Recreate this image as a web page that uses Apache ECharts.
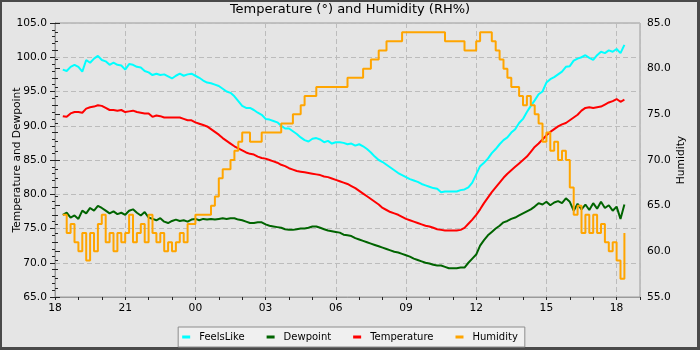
<!DOCTYPE html>
<html>
<head>
<meta charset="utf-8">
<script src="https://cdn.jsdelivr.net/npm/echarts@6/dist/echarts.min.js"></script>
<style>
html,body{margin:0;padding:0;background:#fff}
#c{width:700px;height:350px}
</style>
</head>
<body>
<div id="c"></div>
<script>
// Samples every 10 minutes starting 18:20 (x = hours after 18:00)
const startMinutes = 20;
const stepMinutes = 10;

const xTickLabels = ['18', '21', '00', '03', '06', '09', '12', '15', '18'];

const feelsLike = [
  98.2, 98.0, 98.6, 98.9, 98.6, 97.9, 99.6, 99.2, 99.8, 100.2, 99.6, 99.4, 98.9, 99.2, 98.9, 98.8, 98.2, 99.0,
  98.9, 98.6, 98.5, 98.0, 97.8, 97.4, 97.6, 97.4, 97.5, 97.2, 96.9, 97.3, 97.6, 97.3, 97.5, 97.6, 97.3, 97.0,
  96.6, 96.3, 96.2, 96.0, 95.8, 95.4, 95.0, 94.8, 94.3, 93.6, 92.9, 92.6, 92.6, 92.3, 91.9, 91.6, 91.0, 90.9,
  90.7, 90.5, 90.0, 89.6, 89.6, 89.2, 88.8, 88.3, 87.9, 87.7, 88.1, 88.2, 88.0, 87.6, 87.8, 87.4, 87.6, 87.6,
  87.5, 87.3, 87.4, 87.1, 87.3, 87.0, 86.6, 86.1, 85.5, 85.0, 84.7, 84.3, 83.9, 83.5, 83.1, 82.8, 82.5, 82.2,
  82.0, 81.8, 81.5, 81.3, 81.1, 80.9, 80.8, 80.3, 80.4, 80.4, 80.4, 80.4, 80.6, 80.7, 81.0, 81.7, 82.9,
  84.1, 84.6, 85.2, 86.0, 86.6, 87.3, 87.9, 88.3, 89.0, 89.5, 90.4, 91.0, 92.0, 92.9, 93.7, 94.6, 95.0, 96.3,
  96.8, 97.1, 97.5, 97.9, 98.6, 98.7, 99.5, 99.8, 100.0, 100.3, 99.9, 99.6, 100.3, 100.8, 100.6, 101.0, 100.8,
  101.2, 100.6, 101.8
];

const dewpoint = [
  77.0, 77.3, 76.6, 76.9, 76.4, 77.6, 77.2, 78.0, 77.6, 78.3, 78.0, 77.6, 77.2, 77.5, 77.1, 77.3, 77.0, 77.6,
  77.8, 77.3, 76.9, 77.4, 76.6, 76.4, 76.2, 76.5, 76.0, 75.8, 76.1, 76.3, 76.1, 76.2, 76.0, 76.3, 76.4, 76.2,
  76.4, 76.3, 76.4, 76.3, 76.4, 76.5, 76.4, 76.5, 76.5, 76.3, 76.2, 76.0, 75.8, 75.8, 75.9, 75.9, 75.6, 75.4,
  75.3, 75.2, 75.1, 74.9, 74.8, 74.8, 74.9, 75.0, 75.0, 75.1, 75.3, 75.3, 75.1, 74.9, 74.7, 74.6, 74.5, 74.4,
  74.1, 74.0, 73.9, 73.6, 73.4, 73.2, 73.0, 72.8, 72.6, 72.4, 72.2, 72.0, 71.8, 71.6, 71.5, 71.3, 71.1, 70.9,
  70.6, 70.4, 70.2, 70.0, 69.9, 69.7, 69.6, 69.6, 69.4, 69.2, 69.2, 69.2, 69.3, 69.3, 70.0, 70.6, 71.2,
  72.5, 73.3, 74.0, 74.5, 75.0, 75.4, 75.9, 76.1, 76.4, 76.6, 76.9, 77.2, 77.5, 77.8, 78.2, 78.7, 78.5, 78.9,
  78.4, 78.8, 79.0, 78.7, 79.4, 78.9, 77.6, 78.6, 77.8, 78.5, 77.7, 78.7, 77.9, 78.9, 78.0, 78.4, 77.6,
  78.2, 76.4, 78.5
];

const temperature = [
  91.4, 91.3, 91.8, 92.0, 92.0, 91.9, 92.5, 92.7, 92.8, 93.0, 92.9, 92.6, 92.3, 92.3, 92.2, 92.3, 92.0, 92.1,
  92.2, 92.0, 91.9, 91.8, 91.8, 91.3, 91.5, 91.4, 91.2, 91.2, 91.2, 91.2, 91.2, 91.0, 90.8, 90.8, 90.5, 90.3,
  90.1, 89.9, 89.5, 89.1, 88.7, 88.2, 87.8, 87.4, 87.0, 86.7, 86.4, 86.1, 85.9, 85.8, 85.5, 85.3, 85.2, 85.0,
  84.8, 84.6, 84.3, 84.1, 83.8, 83.6, 83.4, 83.3, 83.2, 83.1, 83.0, 82.9, 82.8, 82.6, 82.5, 82.3, 82.1, 81.9,
  81.7, 81.5, 81.2, 80.9, 80.5, 80.1, 79.7, 79.3, 78.9, 78.5, 78.0, 77.7, 77.4, 77.2, 77.0, 76.7, 76.4, 76.2,
  76.0, 75.8, 75.6, 75.4, 75.3, 75.1, 74.9, 74.8, 74.7, 74.7, 74.7, 74.7, 74.8, 75.1, 75.7, 76.3, 77.0,
  77.8, 78.7, 79.5, 80.3, 81.0, 81.7, 82.4, 83.0, 83.5, 84.0, 84.5, 85.0, 85.5, 86.2, 86.9, 87.4, 88.0, 88.6,
  89.1, 89.5, 89.9, 90.2, 90.4, 90.8, 91.2, 91.6, 92.2, 92.6, 92.7, 92.6, 92.7, 92.8, 93.1, 93.4, 93.6,
  93.9, 93.5, 93.8
];

const humidity = [
  64, 62, 63, 61, 60, 62, 59, 62, 60, 63, 64, 61, 62, 60, 62, 61, 62, 64,
  61, 62, 63, 61, 64, 62, 61, 62, 60, 61, 60, 61, 62, 61, 63, 63, 64, 64,
  64, 64, 65, 66, 68, 69, 69, 70, 71, 72, 73, 73, 72, 72, 72, 73, 73, 73,
  73, 73, 74, 74, 74, 75, 75, 76, 77, 77, 77, 78, 78, 78, 78, 78, 78, 78,
  78, 79, 79, 79, 79, 80, 80, 81, 81, 82, 82, 83, 83, 83, 83, 84, 84, 84,
  84, 84, 84, 84, 84, 84, 84, 84, 83, 83, 83, 83, 83, 82, 82, 82, 83,
  84, 84, 84, 83, 82, 81, 80, 79, 78, 78, 77, 76, 77, 76, 75, 74, 72, 73,
  71, 72, 70, 71, 70, 67, 64, 65, 62, 64, 62, 64, 62, 63, 61, 60, 61,
  59, 57, 62
];

const hoursAt = i => (startMinutes + i * stepMinutes) / 60;
const pairs = arr => arr.map((v, i) => [hoursAt(i), v]);

const FONT = 'DejaVu Sans';
const TICK = '#222';
const AXIS = '#9a9a9a';
const GRIDC = '#bcbcbc';

const chart = echarts.init(document.getElementById('c'), null, {renderer: 'canvas'});

const option = {
  animation: false,
  backgroundColor: '#4a4a4a',
  textStyle: {fontFamily: FONT},
  graphic: {
    elements: [{
      type: 'rect', z: -100, silent: true,
      shape: {x: 2, y: 2, width: 695, height: 345},
      style: {fill: '#e5e5e5'}
    }]
  },
  title: {
    text: 'Temperature (°) and Humidity (RH%)',
    left: 'center', top: 3, padding: 0,
    textStyle: {fontSize: 13, fontWeight: 'normal', color: '#000', fontFamily: FONT}
  },
  legend: {
    data: ['FeelsLike', 'Dewpoint', 'Temperature', 'Humidity'],
    bottom: 3, left: 'center',
    backgroundColor: '#f0f0f0', borderColor: '#8c8c8c', borderWidth: 1, borderRadius: 0,
    padding: [5, 7, 5, 4],
    itemGap: 22, itemWidth: 8, itemHeight: 3, icon: 'rect',
    textStyle: {fontSize: 10, color: '#000', fontFamily: FONT, padding: [0, 0, 0, 4]}
  },
  grid: {
    left: 55, right: 60, top: 23, bottom: 53,
    containLabel: false, outerBoundsMode: 'none',
    show: true, borderColor: AXIS, borderWidth: 1, backgroundColor: 'transparent'
  },
  xAxis: [{
    type: 'value', min: 0, max: 25, interval: 3, position: 'bottom',
    axisLine: {show: true, lineStyle: {color: AXIS}},
    axisTick: {show: false},
    splitLine: {show: true, lineStyle: {color: GRIDC, type: [5, 3], width: 1}},
    axisLabel: {
      fontSize: 10.67, color: '#000', margin: 6, fontFamily: FONT,
      showMaxLabel: false,
      formatter: v => (v % 3 === 0 && xTickLabels[v / 3] !== undefined) ? xTickLabels[v / 3] : ''
    }
  }, {
    type: 'value', min: 0, max: 25, interval: 1, position: 'bottom',
    axisLine: {show: false},
    axisTick: {show: true, length: 3, lineStyle: {color: TICK}},
    splitLine: {show: false},
    axisLabel: {show: false}
  }],
  yAxis: [{
    type: 'value', min: 65, max: 105, interval: 5, position: 'left',
    name: 'Temperature and Dewpoint', nameLocation: 'middle', nameGap: 32, nameRotate: 90,
    nameMoveOverlap: false,
    nameTextStyle: {fontSize: 10.67, color: '#000', fontFamily: FONT},
    axisLine: {show: true, lineStyle: {color: AXIS}},
    axisTick: {show: true, length: 5, lineStyle: {color: TICK}},
    minorTick: {show: true, splitNumber: 5, length: 3, lineStyle: {color: TICK}},
    splitLine: {show: true, lineStyle: {color: GRIDC, type: [5, 3], width: 1}},
    axisLabel: {fontSize: 10.67, color: '#000', margin: 8, fontFamily: FONT, formatter: v => v.toFixed(1)}
  }, {
    type: 'value', min: 55, max: 85, interval: 5, position: 'right',
    name: 'Humidity', nameLocation: 'middle', nameGap: 36, nameRotate: 90,
    nameMoveOverlap: false,
    nameTextStyle: {fontSize: 10.67, color: '#000', fontFamily: FONT},
    axisLine: {show: true, lineStyle: {color: AXIS}},
    axisTick: {show: true, length: 5, lineStyle: {color: TICK}},
    minorTick: {show: true, splitNumber: 5, length: 3, lineStyle: {color: TICK}},
    splitLine: {show: false},
    axisLabel: {fontSize: 10.67, color: '#000', margin: 7, fontFamily: FONT, formatter: v => v.toFixed(1)}
  }],
  series: [{
    name: 'FeelsLike', type: 'line', yAxisIndex: 0, data: pairs(feelsLike),
    showSymbol: false, symbol: 'none',
    lineStyle: {width: 2, color: '#00ffff'}, itemStyle: {color: '#00ffff'}
  }, {
    name: 'Dewpoint', type: 'line', yAxisIndex: 0, data: pairs(dewpoint),
    showSymbol: false, symbol: 'none',
    lineStyle: {width: 2, color: '#006400'}, itemStyle: {color: '#006400'}
  }, {
    name: 'Temperature', type: 'line', yAxisIndex: 0, data: pairs(temperature),
    showSymbol: false, symbol: 'none',
    lineStyle: {width: 2, color: '#ff0000'}, itemStyle: {color: '#ff0000'}
  }, {
    name: 'Humidity', type: 'line', yAxisIndex: 1, data: pairs(humidity), step: 'end',
    showSymbol: false, symbol: 'none',
    lineStyle: {width: 2, color: '#ffa500'}, itemStyle: {color: '#ffa500'}
  }]
};
chart.setOption(option);
</script>
</body>
</html>
